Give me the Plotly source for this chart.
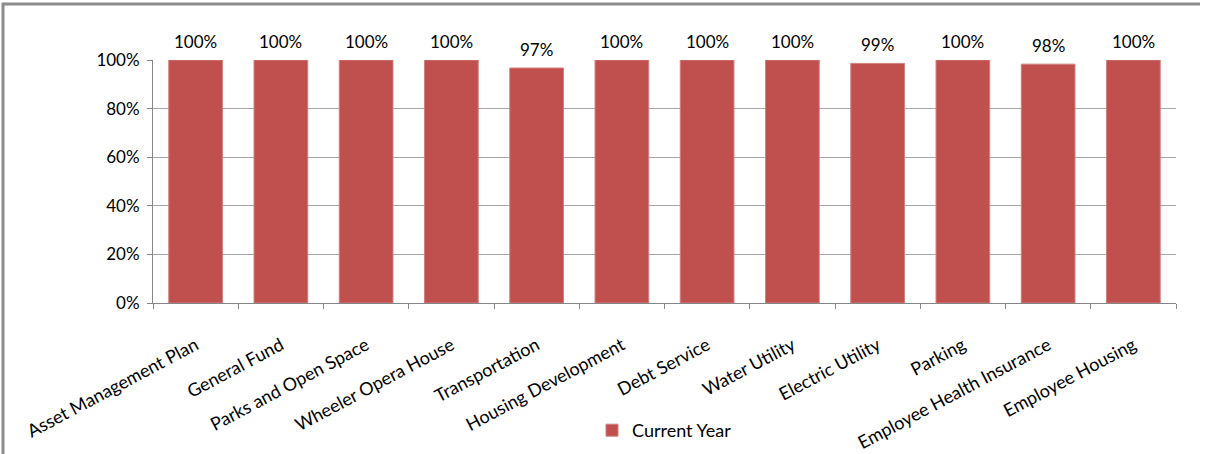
import plotly.graph_objects as go

categories = ["Asset Management Plan", "General Fund", "Parks and Open Space",
              "Wheeler Opera House", "Transportation", "Housing Development",
              "Debt Service", "Water Utility", "Electric Utility", "Parking",
              "Employee Health Insurance", "Employee Housing"]
current_year = [1.00, 1.00, 1.00, 1.00, 0.967, 1.00, 1.00, 1.00, 0.986, 1.00, 0.983, 1.00]
series_name = "Current Year"
y_ticks = [0, 0.2, 0.4, 0.6, 0.8, 1.0]

FONT = "Lato"
W, H = 1207, 454
L, R, T, B = 153, 1176, 60, 303

fig = go.Figure()
fig.add_trace(go.Bar(
    x=categories, y=current_year, name=series_name,
    marker=dict(color="#C0504D", line=dict(color="#D27F7D", width=1)),
    cliponaxis=False,
))

for cat, val in zip(categories, current_year):
    fig.add_annotation(x=cat, y=val, text=f"{val:.0%}", showarrow=False,
                       yanchor="bottom", yshift=6,
                       font=dict(family=FONT, size=17, color="#000000"))

def px_to_paper_x(px):
    return (px - L) / (R - L)

def px_to_paper_y(py):
    return (B - py) / (B - T)

fig.update_layout(
    width=W, height=H,
    margin=dict(l=L, r=W - R, t=T, b=H - B, autoexpand=False),
    paper_bgcolor="white", plot_bgcolor="white",
    font=dict(family=FONT, size=17, color="#000000"),
    bargap=0.37,
    showlegend=True,
    legend=dict(orientation="h", x=0.5, xanchor="center",
                y=px_to_paper_y(412), yanchor="top",
                font=dict(family=FONT, size=18), itemwidth=30,
                bgcolor="rgba(0,0,0,0)"),
    xaxis=dict(
        type="category", tickangle=-28, ticks="outside", tickson="boundaries",
        ticklen=5, tickcolor="#868686", showline=True, linecolor="#868686",
        linewidth=1, showgrid=False, tickfont=dict(family=FONT, size=18),
        ticklabelstandoff=24,
    ),
    yaxis=dict(
        range=[0, 1], tickvals=y_ticks, tickformat=".0%", ticks="outside",
        ticklen=5, tickcolor="#868686", showline=True, linecolor="#868686",
        linewidth=1, showgrid=True, gridcolor="#A6A6A6", gridwidth=1,
        zeroline=False, tickfont=dict(family=FONT, size=17),
        ticklabelstandoff=4,
    ),
    shapes=[
        dict(type="line", xref="paper", yref="paper",
             x0=px_to_paper_x(2), x1=px_to_paper_x(1200),
             y0=px_to_paper_y(4), y1=px_to_paper_y(4),
             line=dict(color="#8C8C8C", width=3)),
        dict(type="line", xref="paper", yref="paper",
             x0=px_to_paper_x(3), x1=px_to_paper_x(3),
             y0=px_to_paper_y(3), y1=px_to_paper_y(460),
             line=dict(color="#8C8C8C", width=3)),
    ],
)

fig.write_html("out.html", config={"displayModeBar": False},
               post_script="document.body.style.margin='0';document.body.style.overflow='hidden';")
